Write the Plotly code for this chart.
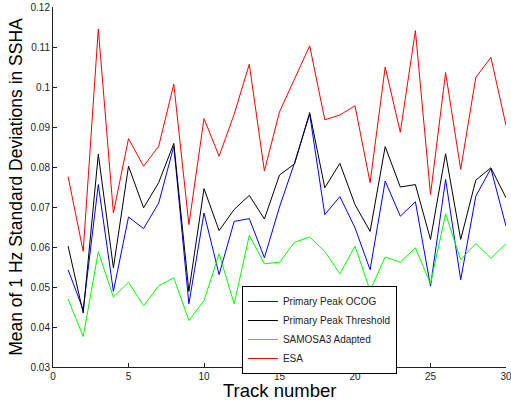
import plotly.graph_objects as go

tracks = list(range(1, 31))

ocog = [0.0543, 0.0443, 0.0756, 0.0489, 0.0675, 0.0646, 0.0710, 0.0852, 0.0458, 0.0685,
        0.0531, 0.0664, 0.0671, 0.0573, 0.0700, 0.0811, 0.0932, 0.0681, 0.0726, 0.0648,
        0.0543, 0.0765, 0.0677, 0.0713, 0.0502, 0.0769, 0.0518, 0.0727, 0.0796, 0.0652]

threshold = [0.0602, 0.0435, 0.0832, 0.0548, 0.0802, 0.0698, 0.0761, 0.0859, 0.0489, 0.0746,
             0.0641, 0.0694, 0.0729, 0.0670, 0.0780, 0.0808, 0.0936, 0.0748, 0.0809, 0.0706,
             0.0639, 0.0851, 0.0750, 0.0756, 0.0619, 0.0833, 0.0619, 0.0767, 0.0798, 0.0723]

samosa = [0.0470, 0.0376, 0.0588, 0.0475, 0.0512, 0.0453, 0.0503, 0.0523, 0.0416, 0.0466,
          0.0583, 0.0458, 0.0629, 0.0558, 0.0562, 0.0612, 0.0625, 0.0589, 0.0533, 0.0602,
          0.0491, 0.0575, 0.0562, 0.0598, 0.0508, 0.0683, 0.0568, 0.0609, 0.0572, 0.0608]

esa = [0.0776, 0.0589, 0.1145, 0.0685, 0.0871, 0.0802, 0.0852, 0.1007, 0.0656, 0.0921,
       0.0827, 0.0932, 0.1057, 0.0790, 0.0938, 0.1020, 0.1103, 0.0918, 0.0930, 0.0953,
       0.0761, 0.1050, 0.0887, 0.1141, 0.0731, 0.1036, 0.0794, 0.1024, 0.1074, 0.0904]

series_names = ["Primary Peak OCOG", "Primary Peak Threshold", "SAMOSA3 Adapted", "ESA"]
series_colors = ["#0000FF", "#000000", "#00FF00", "#FF0000"]

x_ticks = [0, 5, 10, 15, 20, 25, 30]
y_ticks = [0.03, 0.04, 0.05, 0.06, 0.07, 0.08, 0.09, 0.1, 0.11, 0.12]
y_ticktext = ["0.03", "0.04", "0.05", "0.06", "0.07", "0.08", "0.09", "0.1", "0.11", "0.12"]

x_title = "Track number"
y_title = "Mean of 1 Hz Standard Deviations in SSHA"

fig = go.Figure()
for name, vals, col in zip(series_names, [ocog, threshold, samosa, esa], series_colors):
    fig.add_trace(go.Scatter(x=tracks, y=vals, mode="lines", name=name,
                             line=dict(color=col, width=1)))

font_family = "Liberation Sans, Arial, sans-serif"

fig.update_layout(
    width=511, height=404,
    margin=dict(l=53, r=5, t=7, b=37),
    paper_bgcolor="white", plot_bgcolor="white",
    font=dict(family=font_family, color="#222222"),
    showlegend=True,
    legend=dict(x=0.417, y=0.225, xanchor="left", yanchor="top",
                bgcolor="white", bordercolor="black", borderwidth=1,
                font=dict(size=10, family=font_family, color="#222222"),
                tracegroupgap=0, itemwidth=30),
    xaxis=dict(range=[0, 30], tickvals=x_ticks, ticks="inside", ticklen=4,
               tickcolor="#222222", showline=True, linecolor="#222222", linewidth=1,
               showgrid=False, zeroline=False, mirror=False, automargin=False,
               tickfont=dict(size=10), ticklabeloverflow="allow"),
    yaxis=dict(range=[0.03, 0.12], tickvals=y_ticks, ticktext=y_ticktext, ticks="inside",
               ticklen=4, tickcolor="#222222", showline=True, linecolor="#222222", linewidth=1,
               showgrid=False, zeroline=False, mirror=False, automargin=False,
               tickfont=dict(size=10), ticklabeloverflow="allow",
               title=dict(text=y_title, font=dict(size=17.5, color="#000000"), standoff=3)),
    annotations=[dict(text=x_title, xref="paper", yref="paper", x=0.5, y=-0.064,
                      xanchor="center", yanchor="middle", showarrow=False,
                      font=dict(size=18.5, color="#000000", family=font_family))],
)

fig.write_html("out.html", config={"displayModeBar": False},
               post_script="document.body.style.margin='0';")
